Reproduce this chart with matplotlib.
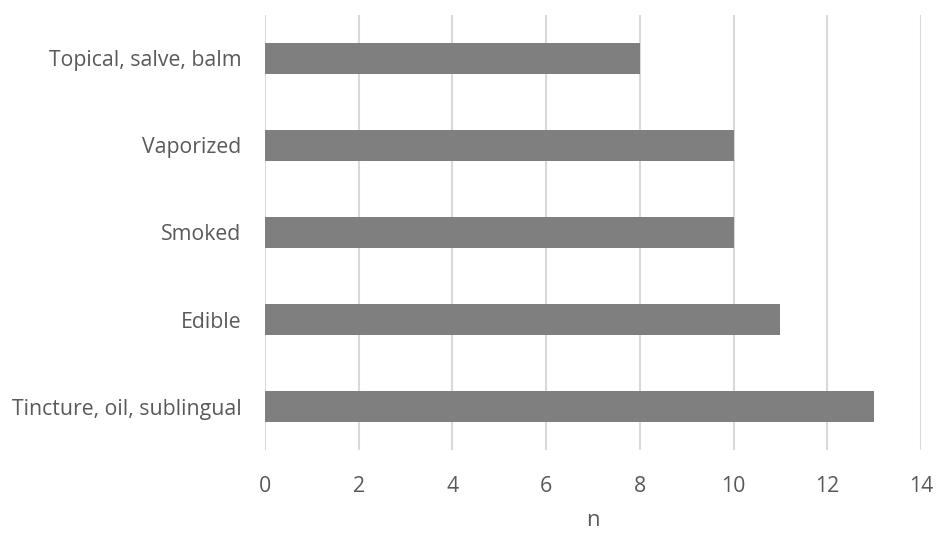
import matplotlib
matplotlib.use("Agg")
import matplotlib.pyplot as plt

categories = ["Tincture, oil, sublingual", "Edible", "Smoked", "Vaporized", "Topical, salve, balm"]
values = [13, 11, 10, 10, 8]
xticks = [0, 2, 4, 6, 8, 10, 12, 14]

plt.rcParams['font.family'] = ['Open Sans', 'DejaVu Sans']

fig = plt.figure(figsize=(9.37, 5.33), dpi=100)
ax = fig.add_axes([0.2828, 0.1557, 0.983 - 0.2828, 0.9719 - 0.1557])

ax.barh(range(len(categories)), values, height=0.36, color="#7f7f7f", zorder=3)
ax.set_yticks(range(len(categories)))
ax.set_yticklabels(categories)
ax.set_ylim(-0.5, len(categories) - 0.5)
ax.set_xlim(0, 14)
ax.set_xticks(xticks)
ax.set_xticklabels([str(t) for t in xticks])
ax.grid(axis='x', color="#d9d9d9", linewidth=1.5, zorder=0)
for s in ax.spines.values():
    s.set_visible(False)
ax.tick_params(axis='both', length=0, labelsize=15.3, labelcolor="#595959")
ax.tick_params(axis='x', pad=19)
ax.tick_params(axis='y', pad=17)
ax.set_xlabel("n", fontsize=16, color="#595959", labelpad=9)

fig.savefig("out.png", dpi=100)
